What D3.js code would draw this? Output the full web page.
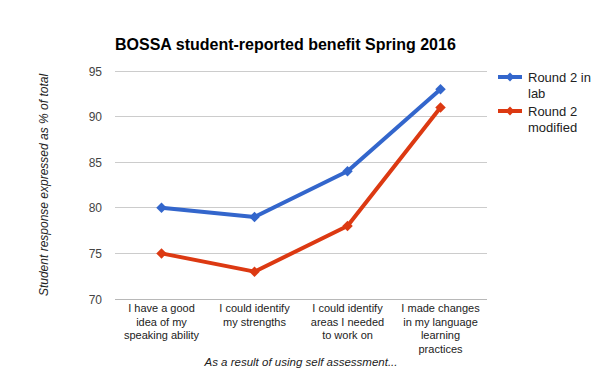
<!DOCTYPE html>
<html>
<head>
<meta charset="utf-8">
<script src="https://cdn.jsdelivr.net/npm/d3@7"></script>
<style>
  body { margin: 0; background: #fff; }
  text { font-family: Arial, "Liberation Sans", sans-serif; }
</style>
</head>
<body>
<svg id="chart"></svg>
<script>
let categories = [
  'I have a good\nidea of my\nspeaking ability',
  'I could identify\nmy strengths',
  'I could identify\nareas I needed\nto work on',
  'I made changes\nin my language\nlearning\npractices'
]
let seriesNames = ['Round 2 in lab', 'Round 2 modified']
let legendLines = [['Round 2 in', 'lab'], ['Round 2', 'modified']]
let labValues = [80, 79, 84, 93]
let modifiedValues = [75, 73, 78, 91]
let yTicks = [70, 75, 80, 85, 90, 95]

let width = 600
let height = 371
let colors = ['#3366cc', '#dc3912']
let margin = { left: 115, right: 113, top: 71, bottom: 72 }

let svg = d3.select('#chart')
  .attr('width', width)
  .attr('height', height)

let x = d3.scaleBand()
  .domain(categories)
  .range([margin.left, width - margin.right])
let y = d3.scaleLinear()
  .domain([70, 95])
  .range([height - margin.bottom, margin.top])

// gridlines
svg.append('g')
  .selectAll('line')
  .data(yTicks)
  .enter()
  .append('line')
  .attr('x1', margin.left)
  .attr('x2', width - margin.right)
  .attr('y1', (d) => y(d))
  .attr('y2', (d) => y(d))
  .attr('stroke', (d) => d === 70 ? '#b8b8b8' : '#cccccc')
  .attr('stroke-width', 1)
  .attr('shape-rendering', 'crispEdges')

// y tick labels
svg.append('g')
  .selectAll('text')
  .data(yTicks)
  .enter()
  .append('text')
  .attr('x', margin.left - 13)
  .attr('y', (d) => y(d) + 4.5)
  .attr('text-anchor', 'end')
  .attr('font-size', 12)
  .attr('fill', '#444')
  .text((d) => d)

// x labels
let xl = svg.append('g')
  .selectAll('text')
  .data(categories)
  .enter()
  .append('text')
  .attr('text-anchor', 'middle')
  .attr('font-size', 11)
  .attr('fill', '#222')
xl.each(function (d) {
  let t = d3.select(this)
  d.split('\n').forEach((line, i) => {
    t.append('tspan')
      .attr('x', x(d) + x.bandwidth() / 2)
      .attr('y', height - margin.bottom + 13 + i * 13.5)
      .text(line)
  })
})

// titles
svg.append('text')
  .attr('x', margin.left)
  .attr('y', 50)
  .attr('font-size', 16)
  .attr('font-weight', 'bold')
  .attr('fill', '#000')
  .text('BOSSA student-reported benefit Spring 2016')

svg.append('text')
  .attr('x', (margin.left + width - margin.right) / 2)
  .attr('y', 366)
  .attr('text-anchor', 'middle')
  .attr('font-size', 11.5)
  .attr('font-style', 'italic')
  .attr('fill', '#222')
  .text('As a result of using self assessment...')

svg.append('text')
  .attr('transform', `translate(48,${(margin.top + height - margin.bottom) / 2}) rotate(-90)`)
  .attr('text-anchor', 'middle')
  .attr('font-size', 12)
  .attr('font-style', 'italic')
  .attr('fill', '#222')
  .text('Student response expressed as % of total')

// series
let series = [labValues, modifiedValues]
let line = d3.line()
  .x((d, i) => x(categories[i]) + x.bandwidth() / 2)
  .y((d) => y(d))
let diamond = d3.symbol().type(d3.symbolDiamond2).size(70)

series.forEach((vals, s) => {
  svg.append('path')
    .datum(vals)
    .attr('d', line)
    .attr('fill', 'none')
    .attr('stroke', colors[s])
    .attr('stroke-width', 4)
    .attr('stroke-linejoin', 'round')
  svg.append('g')
    .selectAll('path')
    .data(vals)
    .enter()
    .append('path')
    .attr('d', diamond)
    .attr('transform', (d, i) => `translate(${x(categories[i]) + x.bandwidth() / 2},${y(d)})`)
    .attr('fill', colors[s])
})

// legend
let legend = svg.append('g')
  .selectAll('g')
  .data(seriesNames)
  .enter()
  .append('g')
  .attr('transform', (d, i) => `translate(498,${77 + i * 34})`)
legend.append('line')
  .attr('x1', 0)
  .attr('x2', 24)
  .attr('stroke', (d, i) => colors[i])
  .attr('stroke-width', 4)
legend.append('path')
  .attr('d', d3.symbol().type(d3.symbolDiamond2).size(50))
  .attr('transform', 'translate(12,0)')
  .attr('fill', (d, i) => colors[i])
legend.append('text')
  .attr('font-size', 13)
  .attr('fill', '#222')
  .each(function (d, i) {
    legendLines[i].forEach((l, j) => {
      d3.select(this).append('tspan')
        .attr('x', 30)
        .attr('y', 4.5 + j * 16)
        .text(l)
    })
  })
</script>
</body>
</html>
